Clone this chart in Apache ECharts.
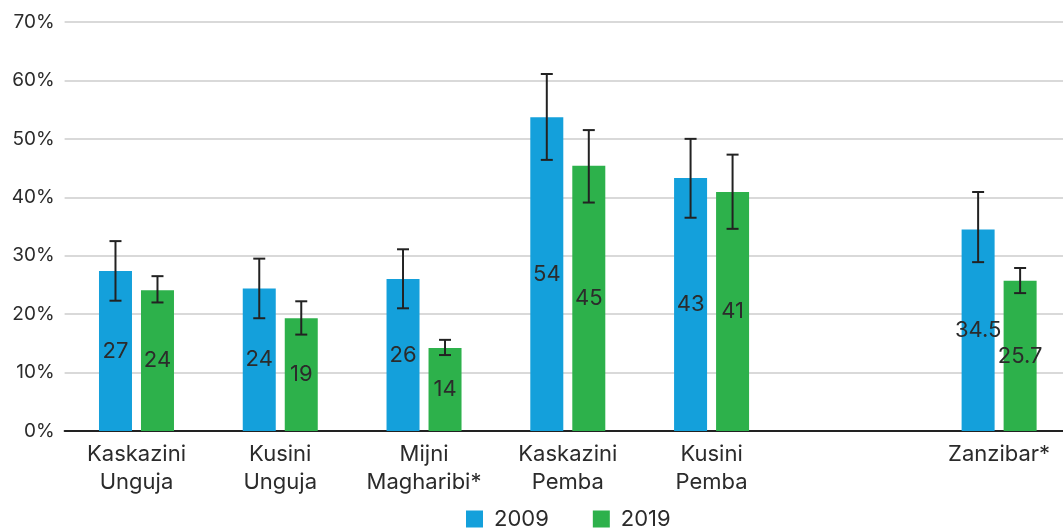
<!DOCTYPE html>
<html>
<head>
<meta charset="utf-8">
<script src="https://cdn.jsdelivr.net/npm/echarts@6/dist/echarts.min.js"></script>
<style>
  html, body { margin: 0; padding: 0; background: #fff; }
  #chart { width: 1063px; height: 529px; }
</style>
</head>
<body>
<div id="chart"></div>
<script>
// Regions (the blank entry leaves a gap before the overall total)
const categories = ['Kaskazini\nUnguja', 'Kusini\nUnguja', 'Mijni\nMagharibi*', 'Kaskazini\nPemba', 'Kusini\nPemba', '', 'Zanzibar*'];

// Percentages per year
const values2009 = [27.4, 24.4, 26.0, 53.7, 43.3, null, 34.5];
const values2019 = [24.1, 19.3, 14.2, 45.4, 40.9, null, 25.7];

// Number of decimals shown in each bar label
const labelDecimals = [0, 0, 0, 0, 0, 0, 1];

// Confidence interval bounds [low, high]
const ci2009 = [[22.3, 32.5], [19.3, 29.5], [21.0, 31.1], [46.4, 61.1], [36.5, 50.0], null, [28.9, 40.9]];
const ci2019 = [[22.0, 26.5], [16.5, 22.2], [13.0, 15.6], [39.1, 51.5], [34.6, 47.3], null, [23.6, 27.9]];

const yTicks = { min: 0, max: 70, interval: 10 };

const BAR_W = 33;
const BAR_GAP = 9;
const FONT = 'Inter, "Open Sans", sans-serif';
const TEXT = '#2b2b2b';

function errorData(ci) {
  const out = [];
  ci.forEach((r, i) => { if (r) out.push([i, r[0], r[1]]); });
  return out;
}

function errorSeries(ci, sign) {
  return {
    type: 'custom',
    z: 10,
    silent: true,
    renderItem: function (params, api) {
      const idx = api.value(0);
      const lo = api.coord([idx, api.value(1)]);
      const hi = api.coord([idx, api.value(2)]);
      const x = lo[0] + sign * (BAR_W + BAR_GAP) / 2;
      const cap = 6;
      const style = { stroke: '#222', lineWidth: 2 };
      return {
        type: 'group',
        children: [
          { type: 'line', shape: { x1: x, y1: hi[1], x2: x, y2: lo[1] }, style },
          { type: 'line', shape: { x1: x - cap, y1: hi[1], x2: x + cap, y2: hi[1] }, style },
          { type: 'line', shape: { x1: x - cap, y1: lo[1], x2: x + cap, y2: lo[1] }, style }
        ]
      };
    },
    encode: { x: 0, y: [1, 2] },
    data: errorData(ci)
  };
}

function barLabel(p) {
  return p.value == null ? '' : p.value.toFixed(labelDecimals[p.dataIndex]);
}

const chart = echarts.init(document.getElementById('chart'), null, { renderer: 'canvas' });

chart.setOption({
  animation: false,
  textStyle: { fontFamily: FONT },
  // plot area runs slightly past the right edge of the canvas
  grid: {
    left: 64.6, width: 1006.4, top: 22, height: 409,
    containLabel: false,
    outerBoundsMode: 'none'
  },
  legend: {
    top: 508,
    left: 466,
    padding: 0,
    icon: 'rect',
    itemWidth: 17,
    itemHeight: 17,
    itemGap: 44,
    textStyle: { fontSize: 22, color: TEXT, fontFamily: FONT, padding: [0, 0, 0, 6] },
    data: ['2009', '2019']
  },
  xAxis: {
    type: 'category',
    data: categories,
    axisTick: { show: false },
    axisLine: { lineStyle: { color: '#222', width: 2 } },
    axisLabel: { fontSize: 22, lineHeight: 28, color: TEXT, margin: 9, interval: 0, fontFamily: FONT }
  },
  yAxis: {
    type: 'value',
    min: yTicks.min,
    max: yTicks.max,
    interval: yTicks.interval,
    axisLine: { show: false },
    axisTick: { show: false },
    splitLine: { lineStyle: { color: '#d9d9d9', width: 2 } },
    axisLabel: { formatter: '{value}%', fontSize: 19, color: TEXT, margin: 10, fontFamily: FONT }
  },
  series: [
    {
      name: '2009',
      type: 'bar',
      barWidth: BAR_W,
      barGap: (BAR_GAP / BAR_W * 100) + '%',
      itemStyle: { color: '#14a0db' },
      label: { show: true, position: 'inside', formatter: barLabel, fontSize: 22, color: TEXT, fontFamily: FONT },
      data: values2009
    },
    {
      name: '2019',
      type: 'bar',
      barWidth: BAR_W,
      itemStyle: { color: '#2db14b' },
      label: { show: true, position: 'inside', formatter: barLabel, fontSize: 22, color: TEXT, fontFamily: FONT },
      data: values2019
    },
    errorSeries(ci2009, -1),
    errorSeries(ci2019, 1)
  ]
});
</script>
</body>
</html>
